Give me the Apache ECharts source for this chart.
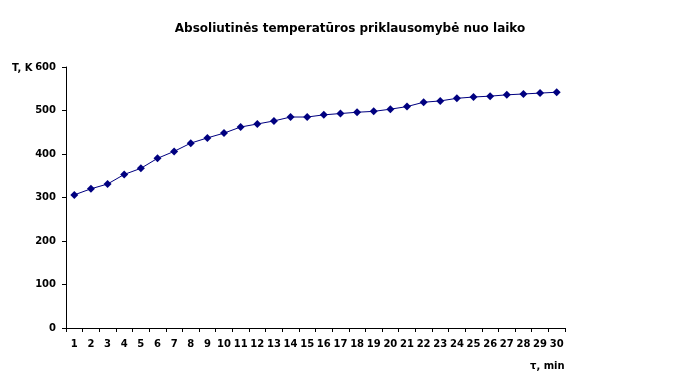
<!DOCTYPE html>
<html><head><meta charset="utf-8">
<script src="https://cdn.jsdelivr.net/npm/echarts@6/dist/echarts.min.js"></script>
<style>html,body{margin:0;padding:0;background:#fff}#c{width:693px;height:392px}</style>
</head><body><div id="c"></div>
<script>
const titleText = 'Absoliutinės temperatūros priklausomybė nuo laiko';
const yName = 'T, K';
const xName = 'τ, min';
const minutes = ['1','2','3','4','5','6','7','8','9','10','11','12','13','14','15','16','17','18','19','20','21','22','23','24','25','26','27','28','29','30'];
const temps = [306,320,331,353,367,390,406,425,437,448,462,469,476,485,485,490,493,496,498,503,509,519,522,528,531,533,536,538,540,542];
const yTicks = [0,100,200,300,400,500,600];

const chart = echarts.init(document.getElementById('c'));
const font = 'DejaVu Sans';
chart.setOption({
  animation: false,
  backgroundColor: '#fff',
  title: {text: titleText, left: 345, top: 18, textAlign: 'center',
    textStyle: {fontFamily: font, fontWeight: 'bold', fontSize: 12, color: '#000'}},
  grid: {left: 66, right: 128, top: 67, bottom: 64, containLabel: false},
  graphic: [
    {type: 'text', left: 12, top: 63, style: {text: yName, font: 'bold 10px "DejaVu Sans"', fill: '#000'}},
    {type: 'text', left: 530, top: 361, style: {text: xName, font: 'bold 10px "DejaVu Sans"', fill: '#000'}}
  ],
  xAxis: {type: 'category', data: minutes, boundaryGap: true,
    axisLine: {lineStyle: {color: '#000', width: 1}},
    axisTick: {show: true, length: 4, inside: false, alignWithLabel: false, lineStyle: {color: '#000'}},
    axisLabel: {interval: 0, margin: 11, fontFamily: font, fontWeight: 'bold', fontSize: 10, color: '#000'},
    splitLine: {show: false}},
  yAxis: {type: 'value', min: yTicks[0], max: yTicks[yTicks.length-1], interval: 100,
    axisLine: {show: true, lineStyle: {color: '#000', width: 1}},
    axisTick: {show: true, length: 4, lineStyle: {color: '#000'}},
    axisLabel: {margin: 10, fontFamily: font, fontWeight: 'bold', fontSize: 10, color: '#000'},
    splitLine: {show: false}},
  series: [{type: 'line', data: temps, symbol: 'diamond', symbolSize: 8,
    lineStyle: {color: '#000080', width: 1}, itemStyle: {color: '#000080'}}]
});
</script></body></html>
